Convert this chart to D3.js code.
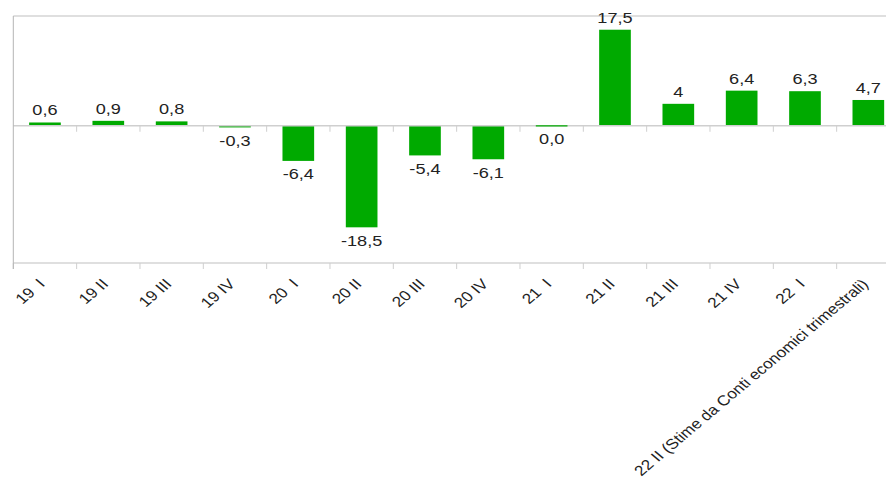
<!DOCTYPE html>
<html>
<head>
<meta charset="utf-8">
<script src="https://cdn.jsdelivr.net/npm/d3@7"></script>
<style>
  html, body { margin: 0; padding: 0; background: #fff; }
  svg { display: block; }
  text { font-family: "Liberation Sans", Arial, sans-serif; fill: #222; white-space: pre; }
</style>
</head>
<body>
<svg id="chart" width="886" height="483"></svg>
<script>
// Quarterly variation (%), Italy GDP-style series
const categories = [
  "19  I", "19 II", "19 III", "19 IV",
  "20  I", "20 II", "20 III", "20 IV",
  "21  I", "21 II", "21 III", "21 IV",
  "22  I", "22 II (Stime da Conti economici trimestrali)"
];
const values = [0.6, 0.9, 0.8, -0.3, -6.4, -18.5, -5.4, -6.1, 0.0, 17.5, 4, 6.4, 6.3, 4.7];
const valueLabels = ["0,6", "0,9", "0,8", "-0,3", "-6,4", "-18,5", "-5,4", "-6,1", "0,0", "17,5", "4", "6,4", "6,3", "4,7"];
const yDomain = [-25, 20];
const gridValues = [20];

const svg = d3.select("#chart");
const W = 886, H = 483;
const plot = { left: 13.3, right: 900, top: 16, bottom: 263 };
const valueStretch = 1.17;
const axisStretch = 1.19;

const x = d3.scaleBand()
  .domain(categories)
  .range([plot.left, plot.right])
  .paddingInner(0.5)
  .paddingOuter(0.25);

const y = d3.scaleLinear().domain(yDomain).range([plot.bottom, plot.top]);

const step = x.step();
const boundaries = categories.map(c => x(c) - step * x.paddingOuter()).concat([plot.right]);

// horizontal gridline(s)
svg.append("g").selectAll("line").data(gridValues).join("line")
  .attr("x1", plot.left).attr("x2", W)
  .attr("y1", d => y(d)).attr("y2", d => y(d))
  .attr("stroke", "#d4d4d4").attr("stroke-width", 1.6);

// bars
svg.append("g").selectAll("rect").data(values).join("rect")
  .attr("x", (d, i) => x(categories[i]))
  .attr("width", x.bandwidth())
  .attr("y", d => Math.min(y(d), y(0)))
  .attr("height", d => Math.max(Math.abs(y(d) - y(0)), 0))
  .attr("fill", "#00aa00");

// zero line with category ticks
const zeroG = svg.append("g");
zeroG.append("line")
  .attr("x1", plot.left).attr("x2", W)
  .attr("y1", y(0)).attr("y2", y(0))
  .attr("stroke", "#cfcfcf").attr("stroke-width", 1.4);
zeroG.selectAll("line.tk").data(boundaries.slice(1)).join("line")
  .attr("class", "tk")
  .attr("x1", d => d).attr("x2", d => d)
  .attr("y1", y(0)).attr("y2", y(0) + 6)
  .attr("stroke", "#cfcfcf").attr("stroke-width", 1);

// thin green stroke for zero-valued bars
svg.append("g").selectAll("line").data(values.map((v, i) => [v, i]).filter(d => d[0] === 0)).join("line")
  .attr("x1", d => x(categories[d[1]])).attr("x2", d => x(categories[d[1]]) + x.bandwidth())
  .attr("y1", y(0)).attr("y2", y(0))
  .attr("stroke", "#00aa00").attr("stroke-width", 1.2);

// bottom axis
const axisG = svg.append("g");
axisG.append("line")
  .attr("x1", plot.left).attr("x2", W)
  .attr("y1", plot.bottom).attr("y2", plot.bottom)
  .attr("stroke", "#d4d4d4").attr("stroke-width", 1.6);
axisG.selectAll("line.tk").data(boundaries).join("line")
  .attr("class", "tk")
  .attr("x1", d => d).attr("x2", d => d)
  .attr("y1", plot.bottom).attr("y2", plot.bottom + 6)
  .attr("stroke", "#cfcfcf").attr("stroke-width", 1);

// left axis line
svg.append("line")
  .attr("x1", plot.left).attr("x2", plot.left)
  .attr("y1", plot.top).attr("y2", plot.bottom + 6)
  .attr("stroke", "#b5b5b5").attr("stroke-width", 1);

// value labels
svg.append("g").selectAll("g").data(values).join("g")
  .attr("transform", (d, i) => {
    const cx = x(categories[i]) + x.bandwidth() / 2;
    const ty = d > 0 ? y(d) - 7 : y(d) + 18.5;
    return `translate(${cx},${ty}) scale(${valueStretch},1)`;
  })
  .append("text")
  .attr("text-anchor", "middle")
  .attr("font-size", 15.5)
  .text((d, i) => valueLabels[i]);

// rotated category labels
svg.append("g").selectAll("g").data(categories).join("g")
  .attr("transform", d => {
    const cx = x(d) + x.bandwidth() / 2 + 1;
    return `translate(${cx},${plot.bottom + 22}) scale(${axisStretch},1) rotate(-45)`;
  })
  .append("text")
  .attr("text-anchor", "end")
  .attr("font-size", 14.4)
  .text(d => d);
</script>
</body>
</html>
